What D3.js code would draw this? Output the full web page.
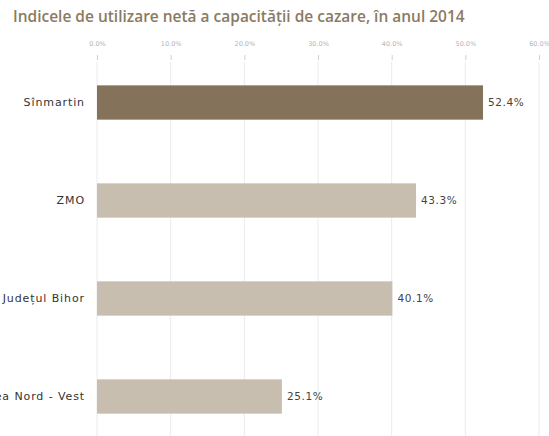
<!DOCTYPE html>
<html><head><meta charset="utf-8">
<script src="https://cdn.jsdelivr.net/npm/d3@7"></script>
<style>body{margin:0;background:#fff}svg{display:block}</style>
</head><body>
<script>
const categories = ["Sînmartin", "ZMO", "Județul Bihor", "Regiunea Nord - Vest"];
const values = [52.4, 43.3, 40.1, 25.1];
const tickValues = [0, 10, 20, 30, 40, 50, 60];
const highlight = "Sînmartin";
const titleText = "Indicele de utilizare netă a capacității de cazare, în anul 2014";

const W = 549, H = 436;
const svg = d3.select("body").append("svg").attr("width", W).attr("height", H);

const x = d3.scaleLinear().domain([0, 60]).range([97, 539]);
const y = d3.scaleBand().domain(categories).range([53.5, 445.5]).paddingInner(0.65).paddingOuter(0.325);

// gridlines
svg.append("g").selectAll("line").data(tickValues).join("line")
  .attr("x1", d => x(d)).attr("x2", d => x(d))
  .attr("y1", 62).attr("y2", H)
  .attr("stroke", "#ebebeb").attr("stroke-width", 1);

// axis top
const axis = svg.append("g").attr("transform", "translate(0,60)")
  .call(d3.axisTop(x).tickValues(tickValues).tickFormat(d => d.toFixed(1) + "%").tickSize(5).tickPadding(9));
axis.select(".domain").remove();
axis.selectAll(".tick line").attr("stroke", "#cfcfcf");
axis.selectAll(".tick text").attr("fill", "#b5b5b5").style("font-family", "DejaVu Sans").style("font-size", "6.5px");

// bars
svg.append("g").selectAll("rect").data(categories).join("rect")
  .attr("x", x(0)).attr("y", d => y(d))
  .attr("width", (d, i) => x(values[i]) - x(0))
  .attr("height", y.bandwidth())
  .attr("fill", d => d === highlight ? "#84735a" : "#c8beb0");

// category labels
svg.append("g").selectAll("text").data(categories).join("text")
  .attr("x", 85).attr("y", d => y(d) + y.bandwidth() / 2)
  .attr("dy", "0.35em").attr("text-anchor", "end")
  .attr("fill", "#333").style("font-family", "DejaVu Sans").style("font-size", "11px")
  .style("letter-spacing", "0.9px")
  .text(d => d);

// value labels
svg.append("g").selectAll("text").data(categories).join("text")
  .attr("x", (d, i) => x(values[i]) + 5).attr("y", d => y(d) + y.bandwidth() / 2)
  .attr("dy", "0.35em")
  .attr("fill", "#444").style("font-family", "DejaVu Sans").style("font-size", "10.5px")
  .style("letter-spacing", "0.6px")
  .text((d, i) => values[i].toFixed(1) + "%");

// title
const t = svg.append("text").attr("x", 13).attr("y", 22)
  .attr("fill", "#8b7a62").style("font-family", "Open Sans").style("font-weight", "600").style("font-size", "14px")
  .text(titleText);
const len = t.node().getComputedTextLength();
t.style("font-size", (14 * 452 / len).toFixed(2) + "px");
</script>
</body></html>
